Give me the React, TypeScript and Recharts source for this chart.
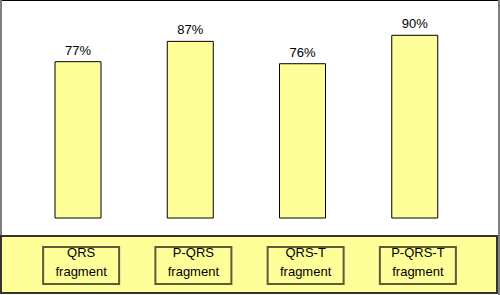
import React from 'react'
import { Bar, BarChart, LabelList, XAxis, YAxis } from 'recharts'

const categories = ['QRS fragment', 'P-QRS fragment', 'QRS-T fragment', 'P-QRS-T fragment']
const accuracy = [77, 87, 76, 90]

const data = categories.map((name, i) => ({ name, value: accuracy[i] }))

const YELLOW = '#FFFF99'

function BoxTick(props: any) {
  const { x, y, payload } = props
  const words = String(payload.value).split(' ')
  const cx = x + 3
  return (
    <g>
      <rect x={cx - 38} y={y + 29} width={76} height={37} fill={YELLOW} stroke="#5c5c3a" strokeWidth={2} />
      <text x={cx} y={y + 39} textAnchor="middle" fontSize={13} fill="#000">
        {words[0]}
      </text>
      <text x={cx} y={y + 58} textAnchor="middle" fontSize={13} fill="#000">
        {words[1]}
      </text>
    </g>
  )
}

export default function App() {
  return (
    <div
      style={{
        position: 'absolute',
        left: 0,
        top: 0,
        width: 500,
        height: 295,
        background: '#fff',
        fontFamily: '"Liberation Sans", Arial, sans-serif',
      }}
    >
      {/* frame */}
      <div style={{ position: 'absolute', left: 0, top: 0, width: 500, height: 1, background: '#000' }} />
      <div style={{ position: 'absolute', left: 0, top: 0, width: 2, height: 236, background: '#808080' }} />
      <div style={{ position: 'absolute', left: 498, top: 0, width: 2, height: 295, background: '#808080' }} />
      {/* axis band */}
      <div
        style={{
          position: 'absolute',
          left: 0,
          top: 235,
          width: 494,
          height: 55,
          background: YELLOW,
          border: '2px solid #333',
        }}
      />
      <div style={{ position: 'absolute', left: 0, top: 0 }}>
        <BarChart width={500} height={295} data={data} margin={{ top: 15, right: 29, bottom: 0, left: 22 }}>
          <YAxis hide domain={[0, 100]} />
          <XAxis
            dataKey="name"
            height={77}
            axisLine={false}
            tickLine={false}
            tickSize={0}
            tickMargin={0}
            interval={0}
            tick={<BoxTick />}
          />
          <Bar dataKey="value" fill={YELLOW} stroke="#000" strokeWidth={1} barSize={46} isAnimationActive={false}>
            <LabelList
              dataKey="value"
              position="top"
              offset={7}
              formatter={(v: any) => `${v}%`}
              style={{ fontSize: 13, fill: '#000' }}
            />
          </Bar>
        </BarChart>
      </div>
    </div>
  )
}
